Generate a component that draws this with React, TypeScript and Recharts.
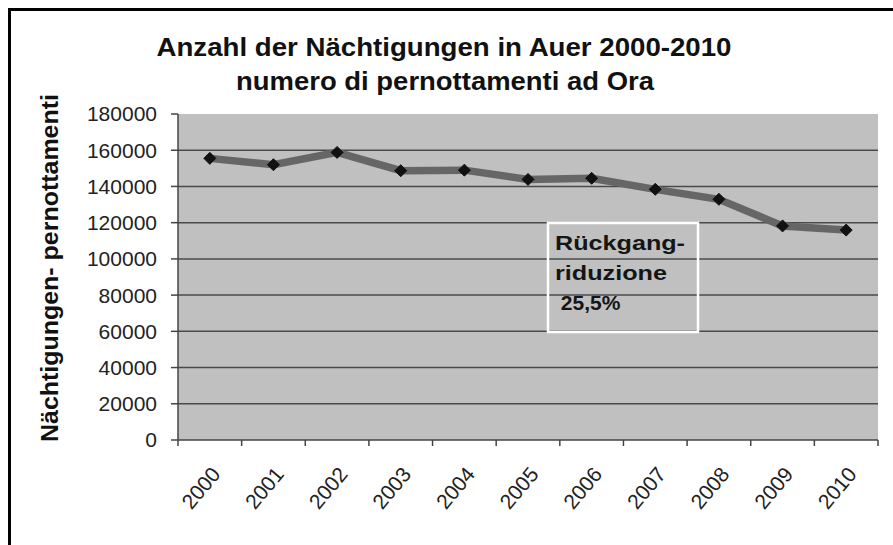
import React from "react";
import {
  ComposedChart,
  Line,
  XAxis,
  YAxis,
  CartesianGrid,
} from "recharts";

const years = ["2000", "2001", "2002", "2003", "2004", "2005", "2006", "2007", "2008", "2009", "2010"];
const nights = [155500, 152000, 158800, 148700, 149000, 143900, 144500, 138400, 132900, 118200, 115900];
const yTicks = [0, 20000, 40000, 60000, 80000, 100000, 120000, 140000, 160000, 180000];
const gridValues = [20000, 40000, 60000, 80000, 100000, 120000, 140000, 160000];

const titleLines = ["Anzahl der Nächtigungen in Auer 2000-2010", "numero di pernottamenti ad Ora"];
const yTitle = "Nächtigungen- pernottamenti";
const noteLines = ["Rückgang-", "riduzione", " 25,5%"];

const W = 893;
const H = 545;
const margin = { top: 114, right: 15, bottom: 15, left: 78 };
const yAxisWidth = 100;
const bandW = (W - margin.left - margin.right - yAxisWidth) / years.length;
const font = "'Liberation Sans', Arial, sans-serif";

const data = years.map((y, i) => ({ year: y, value: nights[i] }));

// year labels sit at the band centre, tick marks go on the band edges (Excel style)
const YearTick = (props: any) => {
  const { x, y, payload, index } = props;
  const half = bandW / 2;
  const last = index === years.length - 1;
  return (
    <g>
      <line x1={x - half} y1={y} x2={x - half} y2={y + 6} stroke="#444" strokeWidth={1.5} />
      {last && <line x1={x + half} y1={y} x2={x + half} y2={y + 6} stroke="#444" strokeWidth={1.5} />}
      <text
        transform={`translate(${x + 6},${y + 30}) rotate(-50)`}
        textAnchor="end"
        dy="0.35em"
        fill="#222"
        fontSize={21}
        fontFamily={font}
      >
        {payload.value}
      </text>
    </g>
  );
};

const Diamond = (props: any) => {
  const { cx, cy } = props;
  if (cx == null || cy == null) return null;
  const r = 6;
  return (
    <polygon
      points={`${cx},${cy - r} ${cx + r},${cy} ${cx},${cy + r} ${cx - r},${cy}`}
      fill="#111"
      stroke="#111"
    />
  );
};

export default function App() {
  return (
    <div style={{ position: "relative", width: W, height: H, background: "#fff", overflow: "hidden" }}>
      <style>{`body{margin:0}`}</style>
      <div
        style={{
          position: "absolute",
          left: 8,
          top: 8,
          width: W,
          height: H,
          borderTop: "3px solid #000",
          borderLeft: "3px solid #000",
        }}
      />
      <div style={{ position: "absolute", left: 0, top: 0 }}>
        <ComposedChart width={W} height={H} data={data} margin={margin}>
          <CartesianGrid
            vertical={false}
            horizontalValues={gridValues}
            fill="#c0c0c0"
            stroke="#4a4a4a"
            strokeWidth={1.5}
          />
          <XAxis
            dataKey="year"
            scale="band"
            interval={0}
            height={90}
            tickSize={0}
            tickMargin={0}
            tickLine={false}
            axisLine={{ stroke: "#444", strokeWidth: 1.5 }}
            tick={<YearTick />}
          />
          <YAxis
            width={yAxisWidth}
            domain={[0, 180000]}
            ticks={yTicks}
            interval={0}
            tickSize={7}
            tickMargin={14}
            axisLine={{ stroke: "#444", strokeWidth: 1.5 }}
            tickLine={{ stroke: "#444", strokeWidth: 1.5 }}
            tick={{ fill: "#222", fontSize: 21, fontFamily: font }}
          />
          <Line
            dataKey="value"
            type="linear"
            stroke="#666"
            strokeWidth={7.5}
            dot={<Diamond />}
            activeDot={false}
            isAnimationActive={false}
          />
          <g fontFamily={font} fontWeight="bold" fill="#111">
            <text x={444} y={56} fontSize={26} textAnchor="middle" textLength={575} lengthAdjust="spacingAndGlyphs">
              {titleLines[0]}
            </text>
            <text x={445} y={90} fontSize={26} textAnchor="middle" textLength={418} lengthAdjust="spacingAndGlyphs">
              {titleLines[1]}
            </text>
            <text
              transform="translate(58,268) rotate(-90)"
              fontSize={24}
              textAnchor="middle"
              textLength={348}
              lengthAdjust="spacingAndGlyphs"
            >
              {yTitle}
            </text>
          </g>
          <g fontFamily={font} fontWeight="bold" fill="#151515" fontSize={21}>
            <rect x={548} y={223} width={150} height={109} fill="none" stroke="#fff" strokeWidth={2.5} />
            <text x={555} y={250} textLength={130} lengthAdjust="spacingAndGlyphs">{noteLines[0]}</text>
            <text x={555} y={280} textLength={112} lengthAdjust="spacingAndGlyphs">{noteLines[1]}</text>
            <text x={555} y={310} xmlSpace="preserve">{noteLines[2]}</text>
          </g>
        </ComposedChart>
      </div>
    </div>
  );
}
